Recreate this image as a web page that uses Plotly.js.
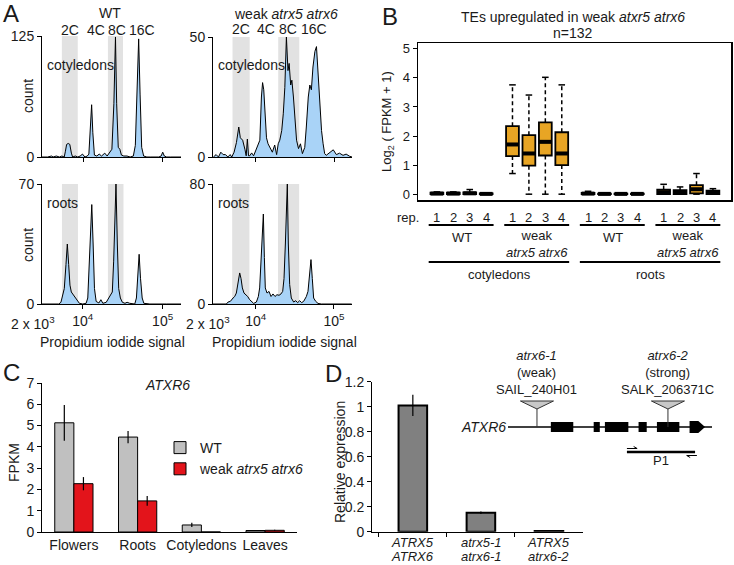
<!DOCTYPE html>
<html>
<head>
<meta charset="utf-8">
<script src="https://cdn.plot.ly/plotly-3.0.1.min.js"></script>
<style>
  html, body { margin: 0; padding: 0; background: #fff; }
  #plot { width: 734px; height: 565px; }
</style>
</head>
<body>
<div id="plot"></div>
<script>
const W = 734, H = 565;
const px = v => v / W;
const py = v => 1 - v / H;

// A: flow cytometry, x = log10(propidium iodide signal), y = count
const wtCotX = [3.48,3.55,3.60,3.62,3.66,3.70,3.73,3.76,3.775,3.79,3.81,3.83,3.85,3.865,3.90,3.93,3.96,3.99,4.02,4.05,4.07,4.085,4.105,4.12,4.14,4.17,4.20,4.23,4.27,4.30,4.33,4.36,4.385,4.405,4.42,4.44,4.46,4.48,4.51,4.55,4.59,4.63,4.655,4.675,4.697,4.715,4.735,4.76,4.80,4.85,4.90,4.95,4.98,5.00,5.02,5.05,5.10,5.23];
const wtCotY = [0,0,1,0,1,0,1,0,6,13,14,13,4,0,1,0,1,3,0,1,3,30,54,25,2,1,3,1,4,1,4,8,55,124,55,10,8,2,1,1,0,1,12,72,122,65,10,1,0,0,0,0,1,5,1,0,0,0];

const mutCotX = [3.455,3.49,3.52,3.55,3.58,3.61,3.64,3.67,3.69,3.72,3.75,3.78,3.80,3.83,3.86,3.875,3.89,3.905,3.92,3.945,3.97,4.01,4.03,4.05,4.07,4.085,4.10,4.115,4.135,4.155,4.185,4.21,4.24,4.265,4.285,4.305,4.33,4.35,4.37,4.39,4.41,4.425,4.445,4.46,4.48,4.50,4.52,4.545,4.57,4.595,4.625,4.645,4.67,4.69,4.71,4.73,4.755,4.775,4.795,4.815,4.84,4.86,4.88,4.90,4.945,4.99,5.03,5.07,5.115,5.155,5.20,5.23];
const mutCotY = [0,1,0,2,1,1,0,1,0,2,6,12.5,8,7,3,0.5,7.5,0.5,0.5,1.7,0.5,3.5,5.5,7,25,31,28,17,8,5.5,3.5,2,5,1,5.5,7,11,18,29,50,36,39,30,32,25,14,7,3.5,5.5,1.4,4,12.5,25,30,28,37.5,44,46,35,21,11,5.5,1.4,0.7,2,3,1,1.6,0.7,1.2,0.3,0];

const wtRootX = [3.49,3.58,3.70,3.727,3.748,3.769,3.79,3.807,3.824,3.84,3.857,3.882,3.908,3.933,3.958,4.00,4.042,4.063,4.084,4.101,4.113,4.13,4.147,4.168,4.202,4.227,4.252,4.294,4.315,4.345,4.37,4.387,4.403,4.416,4.433,4.45,4.471,4.496,4.529,4.555,4.588,4.651,4.672,4.689,4.706,4.723,4.744,4.765,4.84,5.05,5.23];
const wtRootY = [0,0,0,1,4.5,9,23,35,23,11,7,5.4,3.5,2,0.4,0,0.4,3.5,25,44,58,35,9,1.5,0.6,2.5,0.4,1,2.5,4.5,7,25,54,70,35,9,3.5,1,0.4,1,0.4,0,3.5,15,29,15,3.5,0.4,0,0,0];

const mutRootX = [3.455,3.626,3.647,3.677,3.711,3.732,3.753,3.774,3.796,3.813,3.83,3.851,3.872,3.898,3.923,3.949,3.974,4.009,4.034,4.051,4.068,4.085,4.098,4.111,4.123,4.145,4.17,4.196,4.221,4.247,4.272,4.298,4.323,4.345,4.362,4.379,4.391,4.404,4.417,4.434,4.455,4.485,4.511,4.536,4.562,4.587,4.613,4.647,4.668,4.689,4.706,4.723,4.74,4.766,4.796,4.838,5.226];
const mutRootY = [0,0,1.3,1.8,4,5,7.3,13,20.7,17,10.7,7.3,6.2,5,2.9,1.3,0.4,1.3,5,10.7,28,51,60,31,10.7,7.3,8.4,5,6.7,5,6.2,5.8,6.7,8.4,17,40,62,80,40,13,4,1.3,2.2,0.9,2.2,0.9,1.8,5,8.4,22,29.6,17,4,1.8,0.4,0,0];

// gated 2C and 8C regions (log10 signal)
const gatesWtCot = [[3.73, 3.93], [4.31, 4.50]];
const gatesMutCot = [[3.70, 3.92], [4.285, 4.555]];
const gatesWtRoot = [[3.74, 3.94], [4.315, 4.51]];
const gatesMutRoot = [[3.70, 3.92], [4.285, 4.555]];
const ploidy = ['2C', '4C', '8C', '16C'];
const ploidyWt = [3.835, 4.16, 4.42, 4.74];
const ploidyMut = [3.81, 4.13, 4.41, 4.74];

// B: TEs upregulated, log2(FPKM+1) box stats per replicate
const boxGroups = ['WT', 'weak', 'WT', 'weak'];
const boxPos = [0,1,2,3, 4.6,5.6,6.6,7.6, 9.2,10.2,11.2,12.2, 13.8,14.8,15.8,16.8];
const boxRep = [1,2,3,4, 1,2,3,4, 1,2,3,4, 1,2,3,4];
const boxQ1 = [0,0,0,0, 1.31,0.98,1.33,1.0, 0,0,0,0, 0,0,0.03,0];
const boxMed = [0.02,0.02,0.03,0.01, 1.71,1.40,1.80,1.40, 0.02,0.01,0.01,0.01, 0.07,0.06,0.17,0.05];
const boxQ3 = [0.05,0.05,0.06,0.03, 2.34,2.03,2.47,2.13, 0.04,0.02,0.02,0.02, 0.16,0.14,0.31,0.12];
const boxLo = [0,0,0,0, 0.71,0,0,0, 0,0,0,0, 0,0,0,0];
const boxHi = [0.08,0.08,0.16,0.04, 3.76,3.41,4.02,3.76, 0.1,0.03,0.03,0.03, 0.34,0.25,0.71,0.19];

// C: ATXR6 FPKM
const tissues = ['Flowers', 'Roots', 'Cotyledons', 'Leaves'];
const wtFpkm = [5.13, 4.46, 0.33, 0.07];
const wtErr = [0.84, 0.29, 0.1, 0.02];
const mutFpkm = [2.27, 1.46, 0, 0.08];
const mutErr = [0.31, 0.23, 0, 0.02];

// D: relative expression
const genotypes = ['ATRX5 ATRX6', 'atrx5-1 atrx6-1', 'ATRX5 atrx6-2'];
const relExpr = [1.01, 0.152, 0.006];
const relErr = [0.085, 0.01, 0];

// D: gene model (arbitrary units along the locus)
const exons = [[21, 32], [42, 45], [47.5, 59], [64, 68], [73, 84]];
const lastExon = [89, 93.3, 96.6];
const inserts = [14.2, 78.4];
const insertNames = [['atrx6-1', '(weak)', 'SAIL_240H01'], ['atrx6-2', '(strong)', 'SALK_206371C']];
const primer = [58.3, 91.7];

const FONT = 'Liberation Sans, Arial, sans-serif';
const traces = [];
const shapes = [];
const notes = [];

// every annotation centred on its point unless told otherwise
function anno(o) {
  notes.push(Object.assign({showarrow: false, xanchor: 'center', yanchor: 'middle', font: {size: 14}}, o));
}
function note(text, x, y, opts) {
  anno(Object.assign({text: text, x: px(x), y: py(y), xref: 'paper', yref: 'paper'}, opts || {}));
}

// ---- A
function hist(xs, ys, n, gates) {
  traces.push({
    x: xs, y: ys, xaxis: 'x' + n, yaxis: 'y' + n, type: 'scatter', mode: 'lines',
    fill: 'tozeroy', fillcolor: '#a9d3f7', line: {color: '#000', width: 1},
    showlegend: false, hoverinfo: 'skip'
  });
  gates.forEach(g => shapes.push({
    type: 'rect', xref: 'x' + n, yref: 'y' + n + ' domain', x0: g[0], x1: g[1], y0: 0, y1: 1,
    fillcolor: '#e2e2e2', line: {width: 0}, layer: 'below'
  }));
}
hist(wtCotX, wtCotY, '', gatesWtCot);
hist(mutCotX, mutCotY, '2', gatesMutCot);
hist(wtRootX, wtRootY, '3', gatesWtRoot);
hist(mutRootX, mutRootY, '4', gatesMutRoot);

ploidy.forEach((p, i) => {
  anno({text: p, x: ploidyWt[i], xref: 'x', y: py(30), yref: 'paper'});
  anno({text: p, x: ploidyMut[i], xref: 'x2', y: py(29), yref: 'paper'});
});

note('A', 11, 13, {font: {size: 24}});
note('WT', 110, 13);
note('weak <i>atrx5 atrx6</i>', 286, 14);
note('cotyledons', 45, 65, {xanchor: 'left'});
note('cotyledons', 216, 65, {xanchor: 'left'});
note('roots', 45, 203, {xanchor: 'left'});
note('roots', 216, 203, {xanchor: 'left'});
note('count', 28, 96, {textangle: -90});
note('count', 28, 245, {textangle: -90});
note('2 x 10<sup>3</sup>', 33, 323);
note('2 x 10<sup>3</sup>', 208, 323);
note('Propidium iodide signal', 112, 342);
note('Propidium iodide signal', 284, 342);

// ---- B
traces.push({
  type: 'box', x: boxPos, q1: boxQ1, median: boxMed, q3: boxQ3,
  lowerfence: boxQ1, upperfence: boxQ3, width: 0.78, whiskerwidth: 0,
  fillcolor: '#e8a524', line: {color: '#000', width: 1.8}, boxpoints: false,
  xaxis: 'x5', yaxis: 'y5', showlegend: false, hoverinfo: 'skip'
});
const wx = [], wy = [], cx = [], cy = [], mx = [], my = [];
boxPos.forEach((p, i) => {
  wx.push(p, p, null, p, p, null);
  wy.push(boxQ3[i], boxHi[i], null, boxQ1[i], boxLo[i], null);
  cx.push(p - 0.2, p + 0.2, null, p - 0.2, p + 0.2, null);
  cy.push(boxHi[i], boxHi[i], null, boxLo[i], boxLo[i], null);
  mx.push(p - 0.39, p + 0.39, null);
  my.push(boxMed[i], boxMed[i], null);
});
traces.push({x: wx, y: wy, xaxis: 'x5', yaxis: 'y5', mode: 'lines', line: {color: '#000', width: 1.5, dash: '4px,3px'}, showlegend: false, hoverinfo: 'skip'});
traces.push({x: cx, y: cy, xaxis: 'x5', yaxis: 'y5', mode: 'lines', line: {color: '#000', width: 1.5}, showlegend: false, hoverinfo: 'skip'});
traces.push({x: mx, y: my, xaxis: 'x5', yaxis: 'y5', mode: 'lines', line: {color: '#000', width: 4}, showlegend: false, hoverinfo: 'skip'});

note('B', 390, 17, {font: {size: 24}});
note('TEs upregulated in weak <i>atxr5 atrx6</i>', 573, 17);
note('n=132', 573, 33);
note('Log<sub>2</sub> ( FPKM + 1)', 387, 121, {textangle: -90, font: {size: 13}});
note('rep.', 408, 217, {font: {size: 13}});
boxPos.forEach((p, i) => {
  anno({text: String(boxRep[i]), x: p, xref: 'x5', y: py(217), yref: 'paper', font: {size: 13}});
});
for (let g = 0; g < 4; g++) {
  const a = boxPos[g * 4], b = boxPos[g * 4 + 3];
  shapes.push({type: 'line', xref: 'x5', yref: 'paper', x0: a - 0.5, x1: b + 0.45, y0: py(225), y1: py(225), line: {color: '#000', width: 2}});
  const mid = (a + b) / 2;
  if (boxGroups[g] === 'WT') {
    anno({text: 'WT', x: mid, xref: 'x5', y: py(237), yref: 'paper', font: {size: 13}});
  } else {
    anno({text: 'weak<br><i>atrx5 atrx6</i>', x: mid, xref: 'x5', y: py(244), yref: 'paper', font: {size: 13}});
  }
}
[['cotyledons', 0, 7], ['roots', 8, 15]].forEach(t => {
  const a = boxPos[t[1]], b = boxPos[t[2]];
  shapes.push({type: 'line', xref: 'x5', yref: 'paper', x0: a - 0.5, x1: b + 0.45, y0: py(262), y1: py(262), line: {color: '#000', width: 2}});
  anno({text: t[0], x: (a + b) / 2, xref: 'x5', y: py(274), yref: 'paper', font: {size: 13}});
});

// ---- C
traces.push({
  type: 'bar', x: tissues, y: wtFpkm, name: 'WT', xaxis: 'x6', yaxis: 'y6',
  marker: {color: '#c0c0c0', line: {color: '#000', width: 1}},
  error_y: {type: 'data', array: wtErr, color: '#000', thickness: 1.2, width: 0}, hoverinfo: 'skip'
});
traces.push({
  type: 'bar', x: tissues, y: mutFpkm, name: 'weak <i>atrx5 atrx6</i>', xaxis: 'x6', yaxis: 'y6',
  marker: {color: '#e3141b', line: {color: '#000', width: 1}},
  error_y: {type: 'data', array: mutErr, color: '#000', thickness: 1.2, width: 0}, hoverinfo: 'skip'
});
note('C', 11, 372, {font: {size: 24}});
note('<i>ATXR6</i>', 167, 385);
note('FPKM', 14, 463, {textangle: -90});

// ---- D
traces.push({
  type: 'bar', x: genotypes, y: relExpr, width: 0.42,
  xaxis: 'x7', yaxis: 'y7', showlegend: false, hoverinfo: 'skip',
  marker: {color: '#808080', line: {color: '#000', width: 2}},
  error_y: {type: 'data', array: relErr, color: '#000', thickness: 1.2, width: 0}
});
genotypes.forEach(g => {
  g.split(' ').forEach((part, k) => {
    anno({text: '<i>' + part + '</i>', x: g, xref: 'x7', y: py(542 + k * 14.5), yref: 'paper', borderpad: 0, font: {size: 13}});
  });
});
note('D', 333, 373, {font: {size: 24}});
note('Relative expression', 340, 462, {textangle: -90});

// gene model on x8/y8
const G = {xref: 'x8', yref: 'y8'};
shapes.push(Object.assign({type: 'line', x0: 0, x1: 100, y0: 0, y1: 0, line: {color: '#000', width: 1.5}}, G));
exons.forEach(e => shapes.push(Object.assign({type: 'rect', x0: e[0], x1: e[1], y0: -5, y1: 5, fillcolor: '#000', line: {width: 0}}, G)));
shapes.push(Object.assign({
  type: 'path', fillcolor: '#000', line: {width: 0},
  path: `M${lastExon[0]},-6 L${lastExon[1]},-6 L${lastExon[2]},0 L${lastExon[1]},6 L${lastExon[0]},6 Z`
}, G));
inserts.forEach((p, i) => {
  shapes.push(Object.assign({type: 'line', x0: p, x1: p, y0: 0, y1: 18, line: {color: '#333', width: 1}}, G));
  shapes.push(Object.assign({
    type: 'path', fillcolor: '#c8c8c8', line: {color: '#333', width: 1},
    path: `M${p - 8.1},26 L${p + 8.1},26 L${p},18 Z`
  }, G));
  const t = insertNames[i];
  anno({text: '<i>' + t[0] + '</i><br>' + t[1] + '<br>' + t[2], x: p, xref: 'x8', y: py(399), yref: 'paper',
    yanchor: 'bottom', font: {size: 13}});
});
shapes.push(Object.assign({type: 'line', x0: primer[0], x1: primer[1], y0: -25, y1: -25, line: {color: '#000', width: 2.5}}, G));
shapes.push(Object.assign({type: 'path', line: {color: '#000', width: 1}, path: `M${primer[0]},-21.5 L${primer[0] + 5},-21.5 L${primer[0] + 3.3},-19.5`}, G));
shapes.push(Object.assign({type: 'path', line: {color: '#000', width: 1}, path: `M${primer[1] + 0.9},-28.5 L${primer[1] - 4.1},-28.5 L${primer[1] - 2.4},-30.5`}, G));
anno({text: 'P1', x: (primer[0] + primer[1]) / 2, xref: 'x8', y: -33, yref: 'y8', font: {size: 13}});
anno({text: '<i>ATXR6</i>', x: 0, xref: 'x8', y: 0, yref: 'y8', xanchor: 'right'});

// ---- axes
const base = {
  showline: true, linecolor: '#000', linewidth: 1, ticks: 'outside', ticklen: 4,
  tickcolor: '#000', showgrid: false, zeroline: false, tickfont: {size: 14}, fixedrange: true
};
const ax = o => Object.assign({}, base, o);
const log4 = ['10<sup>4</sup>', '10<sup>5</sup>'];

const layout = {
  width: W, height: H,
  margin: {l: 0, r: 0, t: 0, b: 0},
  paper_bgcolor: '#fff', plot_bgcolor: 'rgba(0,0,0,0)',
  font: {family: FONT, color: '#1a1a1a', size: 14},
  barmode: 'group', bargap: 0.4, bargroupgap: 0,
  showlegend: true,
  legend: {x: px(160), y: py(432), xanchor: 'left', yanchor: 'top', bgcolor: 'rgba(0,0,0,0)', font: {size: 14}, tracegroupgap: 0},
  xaxis: ax({domain: [px(42), px(181)], range: [3.48, 5.23], tickvals: [4, 5], showticklabels: false, anchor: 'y'}),
  yaxis: ax({domain: [py(157), py(36)], range: [0, 125], tickvals: [0, 125], anchor: 'x'}),
  xaxis2: ax({domain: [px(213), px(352)], range: [3.45, 5.23], tickvals: [4, 5], showticklabels: false, anchor: 'y2'}),
  yaxis2: ax({domain: [py(157), py(37)], range: [0, 50], tickvals: [0, 50], anchor: 'x2'}),
  xaxis3: ax({domain: [px(42), px(181)], range: [3.49, 5.23], tickvals: [4, 5], ticktext: log4, anchor: 'y3'}),
  yaxis3: ax({domain: [py(304), py(184)], range: [0, 70], tickvals: [0, 70], anchor: 'x3'}),
  xaxis4: ax({domain: [px(213), px(352)], range: [3.455, 5.23], tickvals: [4, 5], ticktext: log4, anchor: 'y4'}),
  yaxis4: ax({domain: [py(304), py(184)], range: [0, 80], tickvals: [0, 80], anchor: 'x4'}),
  xaxis5: ax({domain: [px(418), px(731)], range: [-1.15, 17.9], ticks: '', showticklabels: false, mirror: true, linewidth: 1.5, anchor: 'y5'}),
  yaxis5: ax({domain: [py(200), py(43)], range: [-0.2, 5.2], tickvals: [0, 1, 2, 3, 4, 5], mirror: true, linewidth: 1.5, tickfont: {size: 13}, anchor: 'x5'}),
  xaxis6: ax({domain: [px(42), px(297)], type: 'category', range: [-0.5, 3.5], ticks: '', anchor: 'y6'}),
  yaxis6: ax({domain: [py(532), py(383)], range: [0, 7], dtick: 1, anchor: 'x6'}),
  xaxis7: ax({domain: [px(372), px(583)], type: 'category', range: [-0.6, 2.5], tickson: 'boundaries', showticklabels: false, anchor: 'y7'}),
  yaxis7: ax({domain: [py(531.7), py(381.7)], range: [0, 1.2], dtick: 0.2, anchor: 'x7'}),
  xaxis8: {domain: [px(508), px(712)], range: [0, 100], visible: false, anchor: 'y8', fixedrange: true},
  yaxis8: {domain: [py(460), py(395)], range: [-33, 32], visible: false, anchor: 'x8', fixedrange: true},
  shapes: shapes,
  annotations: notes
};

Plotly.newPlot('plot', traces, layout, {staticPlot: true});
</script>
</body>
</html>
